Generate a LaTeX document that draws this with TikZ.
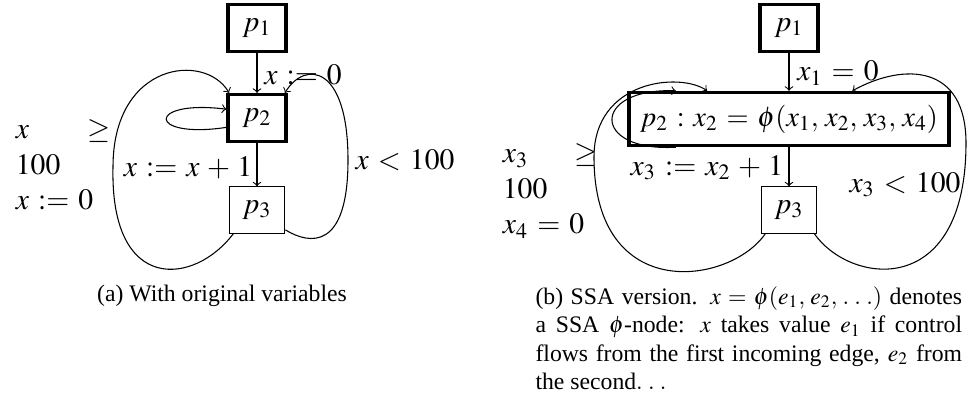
\documentclass[tikz,border=0pt]{standalone}
\usepackage{mathptmx}
\usepackage{fontspec}
\setmainfont{Liberation Serif}
\newcommand{\wideskips}{\thinmuskip=4mu\medmuskip=4.5mu\thickmuskip=5.5mu}

\begin{document}
\begin{tikzpicture}[x=0.422pt,y=-0.422pt,>=to,line width=0.45pt,
    blk/.style={draw,line width=0.45pt,inner sep=0pt,minimum width=23.5pt,minimum height=19.5pt,font=\fontsize{12.5}{15}\selectfont\wideskips},
    heavy/.style={line width=1.4pt,minimum width=24.5pt,minimum height=19.8pt},
    lbl/.style={inner sep=1pt,font=\fontsize{12.5}{15}\selectfont\wideskips},
    subcap/.style={inner sep=0pt,font=\fontsize{10}{12}\selectfont\wideskips}]
  \useasboundingbox (0,0) rectangle (969,401);

  % (a) original variables
  \node[blk,heavy] (pa1) at (257,28) {$p_1$};
  \node[blk,heavy] (pa2) at (257,118) {$p_2$};
  \node[blk] (pa3) at (257,210) {$p_3$};
  \draw[->] (pa1) -- (pa2);
  \draw[->] (pa2) -- (pa3);
  \draw[->] (pa2.197) .. controls +(-80,12) and +(-80,-10) .. (pa2.164);
  \draw[->] (pa3.-135) .. controls (195,285) and (110,295) .. (113,167)
    .. controls (113,62) and (205,52) .. (pa2.138);
  \draw[->] (pa3.-35) .. controls (310,245) and (348,250) .. (348,160)
    .. controls (348,65) and (305,60) .. (pa2.42);
  \node[lbl] (ea1) at (303,75) {$x := 0$};
  \node[lbl] (ea2) at (188,168) {$x := x + 1$};
  \node[lbl] (ea3) at (405,160) {$x < 100$};
  \node[lbl,anchor=west,text width=40pt,align=left] (ea4) at (13,165)
    {$x$\hfill$\geq$\\$100$\\$x := 0$};
  \node[subcap] (capa) at (222,296) {(a) With original variables};

  % (b) SSA version
  \node[blk,heavy] (pb1) at (789,28) {$p_1$};
  \node[blk,heavy,minimum width=135pt,minimum height=22.4pt,font=\fontsize{12}{15}\selectfont\wideskips] (pb2) at (789,119)
    {$p_2 : x_2 = \phi(x_1, x_2, x_3, x_4)$};
  \node[blk] (pb3) at (789,210) {$p_3$};
  \draw[->] (pb1) -- (pb2);
  \draw[->] (pb2) -- (pb3);
  \draw[->] (pb2.194) .. controls +(-85,5) and +(-85,-3) .. (pb2.166);
  \draw[->] (pb3.-135) .. controls (730,285) and (594,305) .. (594,157)
    .. controls (594,80) and (680,72) .. (pb2.161);
  \draw[->] (pb3.-43) .. controls (850,285) and (966,300) .. (966,143)
    .. controls (966,65) and (905,62) .. (pb2.24);
  \node[lbl] (eb1) at (838,73) {$x_1 = 0$};
  \node[lbl] (eb2) at (707,168) {$x_3 := x_2 + 1$};
  \node[lbl] (eb3) at (905,185) {$x_3 < 100$};
  \node[lbl,anchor=west,text width=40pt,align=left] (eb4) at (500,191)
    {$x_3$\hfill$\geq$\\$100$\\$x_4 = 0$};
  \node[subcap,anchor=north west,text width=180pt,align=justify] (capb) at (535,286)
    {(b) SSA version. $x = \phi(e_1, e_2, \dots)$ denotes\linebreak
     a SSA $\phi$-node: $x$ takes value $e_1$ if control\linebreak
     flows from the first incoming edge, $e_2$ from\linebreak
     the second$\ldots$};
\end{tikzpicture}
\end{document}
